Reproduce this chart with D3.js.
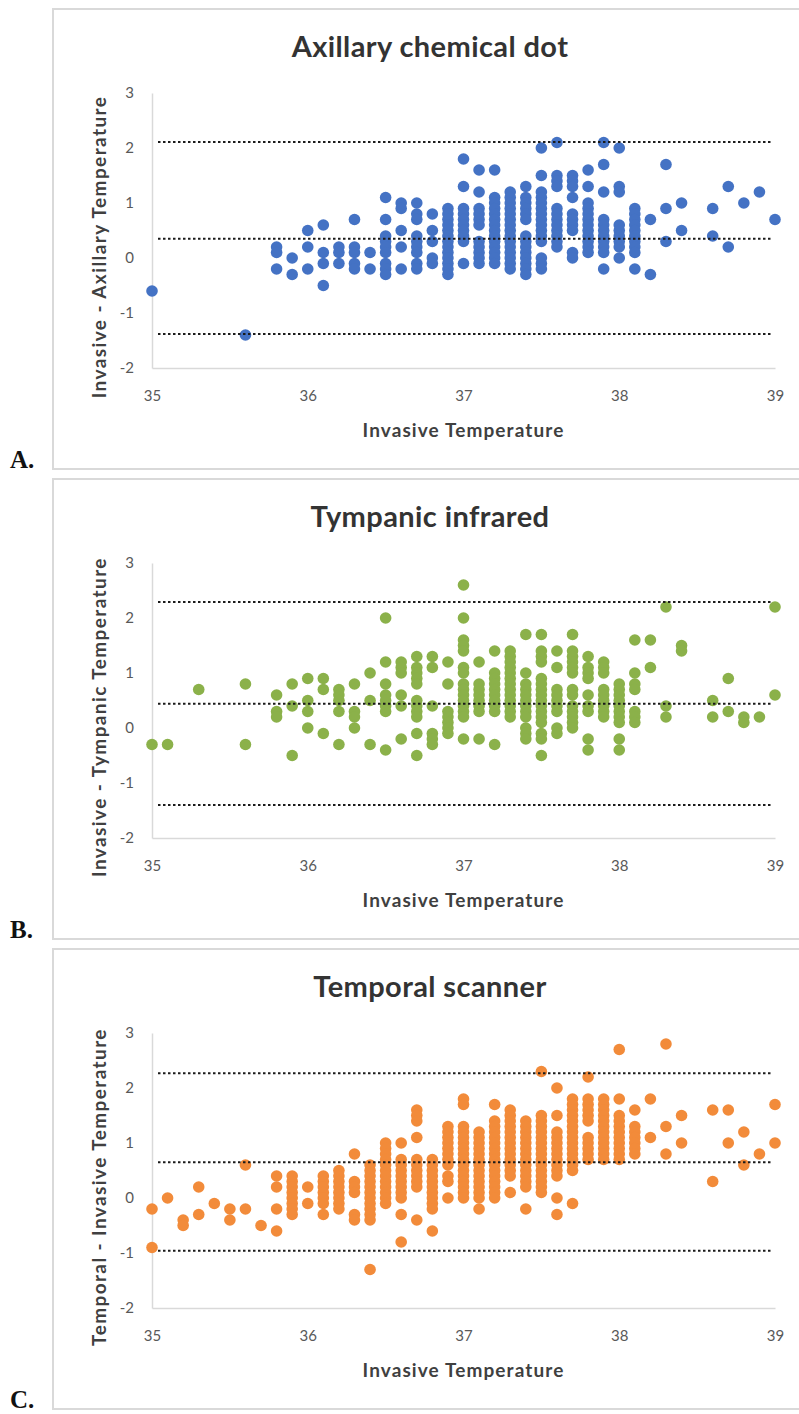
<!DOCTYPE html>
<html>
<head>
<meta charset="utf-8">
<script src="https://cdn.jsdelivr.net/npm/d3@7"></script>
<style>
  body { margin: 0; background: #fff; }
  svg text { font-family: Lato, "Open Sans", sans-serif; }
</style>
</head>
<body>
<div id="chart"></div>
<script>

// Axis ticks
var xTicks = [35, 36, 37, 38, 39];
var yTicks = [-2, -1, 0, 1, 2, 3];

// A. Axillary chemical dot: invasive temp columns and the differences read in each column
var axillaryTemps = [35.0, 35.6, 35.8, 35.9, 36.0, 36.1, 36.2, 36.3, 36.4, 36.5, 36.6, 36.7, 36.8, 36.9,
	37.0, 37.1, 37.2, 37.3, 37.4, 37.5, 37.6, 37.7, 37.8, 37.9, 38.0, 38.1, 38.2, 38.3, 38.4, 38.6, 38.7, 38.8, 38.9, 39.0];
var axillaryDiffs = [
	[-0.6], [-1.4], [0.2, 0.1, -0.2], [0.0, -0.3], [0.5, 0.2, -0.2], [0.6, 0.1, -0.1, -0.5],
	[0.2, 0.1, -0.1], [0.7, 0.2, 0.1, -0.1, -0.2], [0.1, -0.2],
	[1.1, 0.7, 0.4, 0.3, 0.2, 0.1, -0.1, -0.2, -0.3],
	[1.0, 0.9, 0.5, 0.2, -0.2],
	[1.0, 0.8, 0.7, 0.4, 0.3, 0.2, 0.1, -0.1, -0.2],
	[0.8, 0.5, 0.3, 0.0, -0.1],
	[0.9, 0.8, 0.7, 0.6, 0.5, 0.4, 0.3, 0.2, 0.1, 0.0, -0.1, -0.2, -0.3],
	[1.8, 1.3, 0.9, 0.8, 0.7, 0.6, 0.5, 0.4, 0.3, -0.1],
	[1.6, 1.2, 0.9, 0.8, 0.7, 0.6, 0.3, 0.2, 0.1, 0.0, -0.1],
	[1.6, 1.1, 1.0, 0.9, 0.8, 0.7, 0.6, 0.5, 0.4, 0.3, 0.2, 0.1, 0.0, -0.1],
	[1.2, 1.1, 1.0, 0.9, 0.8, 0.7, 0.6, 0.5, 0.4, 0.3, 0.2, 0.1, 0.0, -0.1, -0.2],
	[1.3, 1.1, 1.0, 0.9, 0.8, 0.7, 0.4, 0.3, 0.2, 0.1, 0.0, -0.1, -0.2, -0.3],
	[2.0, 1.5, 1.2, 1.1, 1.0, 0.9, 0.8, 0.7, 0.6, 0.5, 0.4, 0.3, 0.0, -0.1, -0.2],
	[2.1, 1.5, 1.4, 1.3, 0.9, 0.8, 0.7, 0.6, 0.5, 0.4, 0.3, 0.2],
	[1.5, 1.4, 1.3, 1.1, 0.8, 0.7, 0.6, 0.5, 0.1, 0.0],
	[1.6, 1.3, 1.0, 0.9, 0.8, 0.7, 0.6, 0.5, 0.4, 0.3, 0.2, 0.1],
	[2.1, 1.7, 1.2, 0.7, 0.6, 0.5, 0.4, 0.3, 0.2, 0.1, -0.2],
	[2.0, 1.3, 1.2, 0.6, 0.5, 0.4, 0.3, 0.2, 0.0],
	[0.9, 0.8, 0.7, 0.6, 0.5, 0.4, 0.3, 0.2, 0.1, -0.2],
	[0.7, -0.3], [1.7, 0.9, 0.3], [1.0, 0.5], [0.9, 0.4], [1.3, 0.2], [1.0], [1.2], [0.7]
];
var axillaryLimits = [2.11, 0.35, -1.38];

// B. Tympanic infrared
var tympanicTemps = [35.0, 35.1, 35.3, 35.6, 35.8, 35.9, 36.0, 36.1, 36.2, 36.3, 36.4, 36.5, 36.6, 36.7, 36.8, 36.9,
	37.0, 37.1, 37.2, 37.3, 37.4, 37.5, 37.6, 37.7, 37.8, 37.9, 38.0, 38.1, 38.2, 38.3, 38.4, 38.6, 38.7, 38.8, 38.9, 39.0];
var tympanicDiffs = [
	[-0.3], [-0.3], [0.7], [0.8, -0.3], [0.6, 0.3, 0.2], [0.8, 0.4, -0.5], [0.9, 0.5, 0.3, 0.0],
	[0.9, 0.7, -0.1], [0.7, 0.6, 0.5, 0.3, -0.3], [0.8, 0.3, 0.2, 0.0], [1.0, 0.5, -0.3],
	[2.0, 1.2, 0.8, 0.6, 0.5, 0.4, 0.3, -0.4],
	[1.2, 1.1, 1.0, 0.6, 0.4, -0.2],
	[1.3, 1.1, 1.0, 0.9, 0.8, 0.5, 0.4, 0.3, 0.2, -0.1, -0.5],
	[1.3, 1.1, 0.4, -0.1, -0.2, -0.3],
	[1.2, 0.8, 0.3, 0.2, 0.1, 0.0, -0.1],
	[2.6, 2.0, 1.6, 1.5, 1.4, 1.1, 1.0, 0.8, 0.7, 0.6, 0.5, 0.4, 0.3, 0.2, -0.2],
	[1.2, 0.8, 0.7, 0.6, 0.5, 0.4, 0.3, -0.2],
	[1.4, 1.0, 0.9, 0.8, 0.7, 0.6, 0.5, 0.4, 0.3, -0.3],
	[1.4, 1.3, 1.2, 1.1, 1.0, 0.9, 0.8, 0.7, 0.6, 0.5, 0.4, 0.3, 0.2],
	[1.7, 1.0, 0.8, 0.7, 0.6, 0.5, 0.4, 0.3, 0.2, 0.0, -0.1, -0.2],
	[1.7, 1.4, 1.3, 1.2, 0.9, 0.8, 0.7, 0.6, 0.5, 0.4, 0.3, 0.2, 0.1, -0.1, -0.2, -0.5],
	[1.4, 1.1, 0.7, 0.6, 0.5, 0.4, 0.3, 0.0, -0.1],
	[1.7, 1.4, 1.3, 1.2, 1.1, 1.0, 0.7, 0.6, 0.4, 0.3, 0.2, 0.1, 0.0],
	[1.3, 1.1, 1.0, 0.9, 0.6, 0.4, 0.3, -0.2, -0.4],
	[1.2, 1.1, 1.0, 0.7, 0.6, 0.5, 0.4, 0.3, 0.2],
	[0.8, 0.7, 0.6, 0.5, 0.4, 0.3, 0.2, 0.1, -0.2, -0.4],
	[1.6, 1.0, 0.8, 0.7, 0.3, 0.2, 0.1],
	[1.6, 1.1], [2.2, 0.4, 0.2], [1.5, 1.4], [0.5, 0.2], [0.9, 0.3], [0.2, 0.1], [0.2], [2.2, 0.6]
];
var tympanicLimits = [2.29, 0.44, -1.4];

// C. Temporal scanner
var temporalTemps = [35.0, 35.1, 35.2, 35.3, 35.4, 35.5, 35.6, 35.7, 35.8, 35.9, 36.0, 36.1, 36.2, 36.3, 36.4, 36.5,
	36.6, 36.7, 36.8, 36.9, 37.0, 37.1, 37.2, 37.3, 37.4, 37.5, 37.6, 37.7, 37.8, 37.9, 38.0, 38.1, 38.2, 38.3,
	38.4, 38.6, 38.7, 38.8, 38.9, 39.0];
var temporalDiffs = [
	[-0.2, -0.9], [0.0], [-0.4, -0.5], [0.2, -0.3], [-0.1], [-0.2, -0.4], [0.6, -0.2], [-0.5],
	[0.4, 0.2, -0.2, -0.6],
	[0.4, 0.3, 0.2, 0.1, 0.0, -0.1, -0.2, -0.3],
	[0.2, -0.1],
	[0.4, 0.3, 0.2, 0.1, 0.0, -0.1, -0.3],
	[0.5, 0.4, 0.3, 0.2, 0.1, 0.0, -0.1, -0.2],
	[0.8, 0.3, 0.2, 0.1, -0.3, -0.4],
	[0.6, 0.5, 0.4, 0.3, 0.2, 0.1, 0.0, -0.1, -0.2, -0.3, -0.4, -1.3],
	[1.0, 0.9, 0.8, 0.7, 0.6, 0.5, 0.4, 0.3, 0.2, 0.1, 0.0, -0.1],
	[1.0, 0.7, 0.6, 0.5, 0.4, 0.3, 0.2, 0.1, 0.0, -0.3, -0.8],
	[1.6, 1.5, 1.4, 1.1, 0.7, 0.6, 0.5, 0.4, 0.3, 0.2, -0.4],
	[0.7, 0.6, 0.5, 0.4, 0.3, 0.2, 0.1, 0.0, -0.1, -0.2, -0.6],
	[1.3, 1.2, 1.1, 1.0, 0.9, 0.8, 0.7, 0.6, 0.4, 0.3, 0.0],
	[1.8, 1.7, 1.3, 1.2, 1.1, 1.0, 0.9, 0.8, 0.7, 0.6, 0.5, 0.4, 0.3, 0.2, 0.1, 0.0],
	[1.2, 1.1, 1.0, 0.9, 0.8, 0.7, 0.6, 0.5, 0.4, 0.3, 0.2, 0.1, 0.0, -0.2],
	[1.7, 1.4, 1.3, 1.2, 1.1, 1.0, 0.9, 0.8, 0.7, 0.6, 0.5, 0.4, 0.3, 0.2, 0.1, 0.0],
	[1.6, 1.5, 1.4, 1.3, 1.2, 1.1, 1.0, 0.9, 0.8, 0.7, 0.6, 0.5, 0.4, 0.1],
	[1.4, 1.3, 1.2, 1.1, 1.0, 0.9, 0.8, 0.7, 0.6, 0.5, 0.4, 0.3, 0.2, -0.2],
	[2.3, 1.5, 1.4, 1.3, 1.2, 1.1, 1.0, 0.9, 0.8, 0.7, 0.6, 0.5, 0.4, 0.3, 0.2, 0.1],
	[2.0, 1.5, 1.2, 1.1, 1.0, 0.9, 0.8, 0.7, 0.6, 0.5, 0.4, 0.0, -0.3],
	[1.8, 1.7, 1.6, 1.5, 1.4, 1.3, 1.2, 1.1, 1.0, 0.9, 0.8, 0.7, 0.6, 0.5, -0.1],
	[2.2, 1.8, 1.7, 1.6, 1.5, 1.4, 1.1, 1.0, 0.9, 0.8, 0.7],
	[1.8, 1.7, 1.6, 1.5, 1.4, 1.3, 1.2, 1.1, 1.0, 0.9, 0.8, 0.7],
	[2.7, 1.8, 1.5, 1.4, 1.3, 1.2, 1.1, 1.0, 0.9, 0.8, 0.7],
	[1.6, 1.3, 1.2, 1.1, 1.0, 0.9, 0.8],
	[1.8, 1.1], [2.8, 1.3, 0.8], [1.5, 1.0], [1.6, 0.3], [1.6, 1.0], [1.2, 0.6], [0.8], [1.7, 1.0]
];
var temporalLimits = [2.27, 0.65, -0.96];

var panelHeight = 470;

var svg = d3.select("#chart").append("svg")
	.attr("width", 799)
	.attr("height", 1414);

var x = d3.scaleLinear().domain([35, 39]).range([152, 775]);
var y = d3.scaleLinear().domain([-2, 3]).range([368, 93]);

var drawPanel = function(config) {
	var g = svg.append("g")
		.attr("transform", "translate(0," + (config.index * panelHeight) + ")");

	// Chart frame
	g.append("rect")
		.attr("x", 53).attr("y", 9)
		.attr("width", 780).attr("height", 460)
		.attr("fill", "none")
		.attr("stroke", "#d9d9d9")
		.attr("stroke-width", 2);

	g.append("text")
		.attr("x", 430).attr("y", 57)
		.attr("text-anchor", "middle")
		.style("font-size", "29px")
		.style("font-weight", "bold")
		.style("letter-spacing", "0.4px")
		.style("fill", "#333")
		.text(config.title);

	// Axes
	var xAxis = g.append("g")
		.attr("transform", "translate(0," + y(-2) + ")")
		.call(d3.axisBottom(x).tickValues(xTicks).tickSize(0).tickPadding(22).tickFormat(d3.format("d")));
	var yAxis = g.append("g")
		.attr("transform", "translate(" + x(35) + ",0)")
		.call(d3.axisLeft(y).tickValues(yTicks).tickSize(0).tickPadding(18).tickFormat(function(d) { return d < 0 ? "-" + Math.abs(d) : d; }));
	[xAxis, yAxis].forEach(function(a) {
		a.select(".domain").attr("stroke", "#d9d9d9").attr("stroke-width", 1.5);
		a.selectAll(".tick text")
			.style("font-family", "Lato, sans-serif")
			.style("font-size", "15px")
			.style("fill", "#595959");
	});

	g.append("text")
		.attr("x", (x(35) + x(39)) / 2).attr("y", 437)
		.attr("text-anchor", "middle")
		.style("font-size", "19px")
		.style("font-weight", "bold")
		.style("letter-spacing", "1.1px")
		.style("fill", "#404040")
		.text("Invasive Temperature");

	g.append("text")
		.attr("transform", "translate(106,247) rotate(-90)")
		.attr("text-anchor", "middle")
		.style("font-size", "19px")
		.style("font-weight", "bold")
		.style("letter-spacing", "1.4px")
		.style("fill", "#404040")
		.text(config.yLabel);

	// Points, one per reading
	var points = [];
	config.temps.forEach(function(t, i) {
		config.diffs[i].forEach(function(d) { points.push({t: t, d: d}); });
	});
	g.selectAll(".dot")
		.data(points)
		.enter().append("circle")
		.attr("class", "dot")
		.attr("cx", function(d) { return x(d.t); })
		.attr("cy", function(d) { return y(d.d); })
		.attr("r", 5.8)
		.attr("fill", config.color);

	// Mean bias and limits of agreement
	g.selectAll(".limit")
		.data(config.limits)
		.enter().append("line")
		.attr("class", "limit")
		.attr("x1", x(35) + 6).attr("x2", x(39) - 4)
		.attr("y1", function(d) { return y(d); })
		.attr("y2", function(d) { return y(d); })
		.attr("stroke", "#1a1a1a")
		.attr("stroke-width", 2)
		.attr("stroke-dasharray", "2.5,2.5");

	g.append("text")
		.attr("x", 10).attr("y", 468)
		.style("font-family", "'Liberation Serif', 'Times New Roman', serif")
		.style("font-size", "25px")
		.style("font-weight", "bold")
		.style("fill", "#111")
		.text(config.letter);
};

var panels = [
	{index: 0, letter: "A.", title: "Axillary chemical dot", yLabel: "Invasive - Axillary Temperature",
		temps: axillaryTemps, diffs: axillaryDiffs, limits: axillaryLimits, color: "#4472C4"},
	{index: 1, letter: "B.", title: "Tympanic infrared", yLabel: "Invasive - Tympanic Temperature",
		temps: tympanicTemps, diffs: tympanicDiffs, limits: tympanicLimits, color: "#8BB14A"},
	{index: 2, letter: "C.", title: "Temporal scanner", yLabel: "Temporal - Invasive Temperature",
		temps: temporalTemps, diffs: temporalDiffs, limits: temporalLimits, color: "#F28B3A"}
];

panels.forEach(drawPanel);
</script>
</body>
</html>
